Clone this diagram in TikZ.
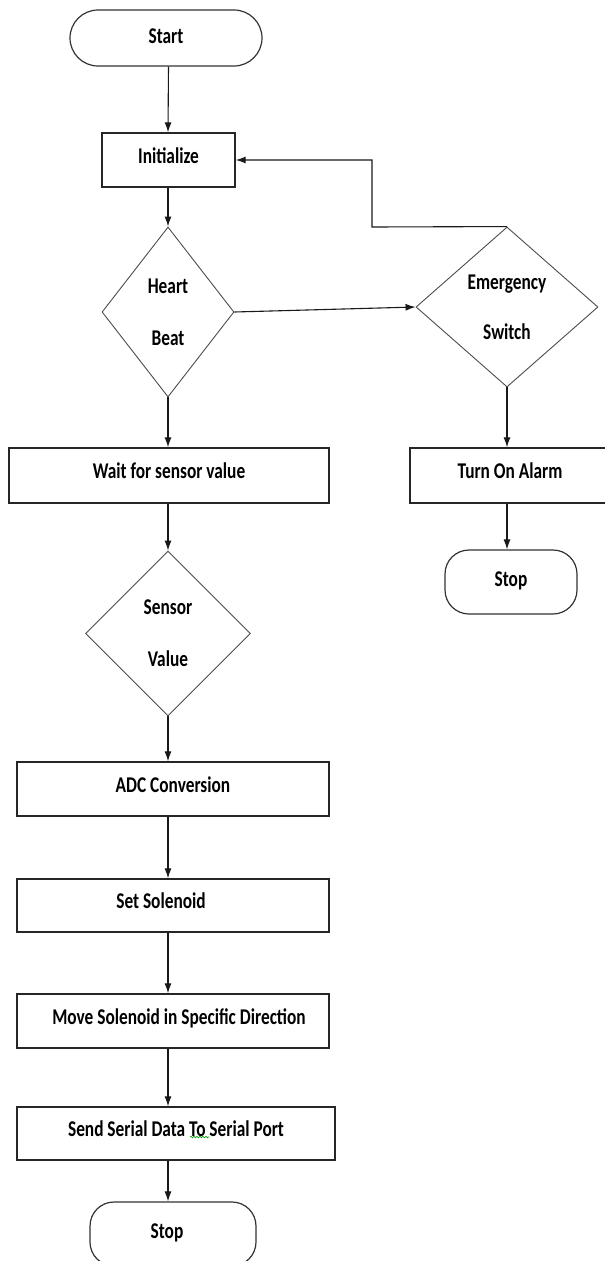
\documentclass[tikz,border=0pt]{standalone}
\usepackage{fontspec}
\setmainfont{Carlito}[FakeStretch=0.77]
\usetikzlibrary{arrows.meta,shapes.geometric,calc,decorations.pathmorphing}
\tikzset{
  boxnode/.style={draw=black!85,line width=1.4pt,rectangle,minimum height=54pt,inner sep=0pt,text depth=9pt,font=\fontsize{22.5}{24}\selectfont\bfseries},
  termnode/.style={draw=black!80,line width=1.2pt,rectangle,rounded corners=24pt,minimum height=58pt,inner sep=0pt,text depth=6pt,font=\fontsize{22.5}{24}\selectfont\bfseries},
  decnode/.style={draw=black!70,line width=0.9pt,diamond,inner sep=0pt,align=center,font=\fontsize{22.5}{24}\selectfont\bfseries},
  flowarrow/.style={line width=1.1pt,black!90,-{Latex[length=10pt,width=7pt]}},
  flowline/.style={line width=1.1pt,black!90}
}
\begin{document}
\begin{tikzpicture}[x=1pt,y=-1pt]
\useasboundingbox (0,0) rectangle (605,1261);
\clip (0,0) rectangle (605,1261);
% main column
\node[termnode,minimum width=192pt,minimum height=56pt,rounded corners=28pt,text depth=3pt] (start) at (166,38) {Start};
\node[boxnode,minimum width=133pt] (init) at (168.5,160) {Initialize};
\node[decnode,minimum width=132pt,minimum height=170pt] (hb) at (168,312) {Heart\\[28pt]Beat};
\node[boxnode,minimum width=320pt,minimum height=55pt] (wait) at (169,475.5) {Wait for sensor value};
\node[decnode,minimum width=165pt,minimum height=165pt] (sv) at (168,633.5) {Sensor\\[28pt]Value};
\node[boxnode,minimum width=312pt] (adc) at (173,789) {ADC Conversion};
\node[boxnode,minimum width=312pt,minimum height=53pt] (set) at (173,905.5) {\hspace*{-24pt}Set Solenoid};
\node[boxnode,minimum width=312pt] (move) at (173,1021) {\hspace*{12pt}Move Solenoid in Specific Direction};
\node[boxnode,minimum width=318pt,minimum height=53pt] (send) at (176,1133.5) {Send Serial Data To Serial Port};
\node[termnode,minimum width=166pt,minimum height=64pt] (stopa) at (173,1234) {\hspace*{-12pt}Stop};
% right column
\node[decnode,minimum width=182pt,minimum height=160pt] (em) at (507,307) {Emergency\\[26pt]Switch};
\node[boxnode,minimum width=200pt,minimum height=55pt] (alarm) at (510,475.5) {Turn On Alarm};
\node[termnode,minimum width=132pt,minimum height=64pt] (stopb) at (511,582) {Stop};
% spell-check squiggle under "To"
\coordinate (sq1) at (190,1137);
\coordinate (sq2) at (209,1137);
\draw[green!60!black,line width=0.6pt,decorate,decoration={snake,amplitude=0.8pt,segment length=3pt}] (sq1) -- (sq2);
% connectors
\draw[flowarrow] (start.south -| init.north) -- (init.north -| hb.north);
\draw[flowarrow] (init.south -| hb.north) -- (hb.north);
\draw[flowarrow] (hb.south) -- (hb.south |- wait.north);
\draw[flowarrow] (sv.north |- wait.south) -- (sv.north);
\draw[flowarrow] (sv.south) -- (sv.south |- adc.north);
\draw[flowarrow] (sv.south |- adc.south) -- (sv.south |- set.north);
\draw[flowarrow] (sv.south |- set.south) -- (sv.south |- move.north);
\draw[flowarrow] (sv.south |- move.south) -- (sv.south |- send.north);
\draw[flowarrow] (sv.south |- send.south) -- (sv.south |- stopa.north);
\draw[flowarrow] (hb.east) -- (em.west);
\draw[flowarrow] (em.south) -- (em.south |- alarm.north);
\draw[flowarrow] (em.south |- alarm.south) -- (em.south |- stopb.north);
\coordinate (loop) at (372,227);
\draw[flowarrow] (em.north) -- (loop) -- (loop |- init.east) -- (init.east);
\end{tikzpicture}
\end{document}
